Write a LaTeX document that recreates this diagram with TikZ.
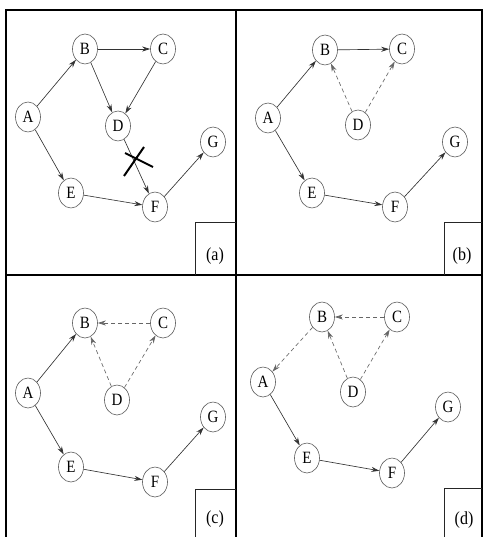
\documentclass[tikz,border=0pt]{standalone}
\usepackage{fontspec}
\setmainfont{Liberation Serif}
\usetikzlibrary{arrows.meta,shapes.geometric}
\newcommand{\tallt}[1]{\scalebox{1}[1.15]{#1}}
\tikzset{
  vert/.style={ellipse,draw=black!65,line width=0.6pt,inner sep=0pt,minimum width=25pt,minimum height=30pt,font=\fontsize{15}{15}\selectfont},
  edge/.style={draw=black!80,line width=0.65pt,-{Stealth[length=8pt,width=5pt]}},
  dedge/.style={draw=black!60,line width=0.65pt,dash pattern=on 4pt off 3pt,-{Stealth[length=8pt,width=5pt]}},
  frame/.style={draw=black,line width=1.1pt},
  lbox/.style={draw=black!85,line width=0.8pt},
  lbl/.style={font=\fontsize{16}{16}\selectfont,inner sep=0pt},
  crossline/.style={draw=black,line width=2pt}
}
\begin{document}
\begin{tikzpicture}[x=1pt,y=-1pt]
\useasboundingbox (0,0) rectangle (483,537);
% frame
\draw[frame] (6,537) -- (6,10) -- (482,10) -- (482,537);
\draw[frame] (236,10) -- (236,537);
\draw[frame] (6,275) -- (482,275);
% label boxes
\draw[lbox] (195,275) -- (195,222) -- (236,222);
\draw[lbox] (444,275) -- (444,222) -- (482,222);
\draw[lbox] (195,537) -- (195,489) -- (236,489);
\draw[lbox] (444,537) -- (444,488) -- (482,488);
\node[lbl] (la) at (215,256) {\tallt{(a)}};
\node[lbl] (lb) at (462,256) {\tallt{(b)}};
\node[lbl] (lc) at (215,519) {\tallt{(c)}};
\node[lbl] (ld) at (464,520) {\tallt{(d)}};
% panel (a)
\node[vert] (aA) at (28,117) {\tallt{A}};
\node[vert] (aB) at (85,49) {\tallt{B}};
\node[vert] (aC) at (163,49) {\tallt{C}};
\node[vert] (aD) at (118,126) {\tallt{D}};
\node[vert] (aE) at (71,193) {\tallt{E}};
\node[vert] (aF) at (155,207) {\tallt{F}};
\node[vert] (aG) at (213,142) {\tallt{G}};
\draw[edge] (aA) -- (aB);
\draw[edge] (aB) -- (aC);
\draw[edge] (aB) -- (aD);
\draw[edge] (aC) -- (aD);
\draw[edge] (aA) -- (aE);
\draw[edge] (aE) -- (aF);
\draw[edge] (aD) -- (aF);
\draw[edge] (aF) -- (aG);
\coordinate (x1) at (125,153);
\coordinate (x2) at (153,167);
\coordinate (x3) at (124,176);
\coordinate (x4) at (144,147);
\draw[crossline] (x1) -- (x2);
\draw[crossline] (x3) -- (x4);
% panel (b)
\node[vert] (bA) at (268,118) {\tallt{A}};
\node[vert] (bB) at (325,50) {\tallt{B}};
\node[vert] (bC) at (402,49) {\tallt{C}};
\node[vert] (bD) at (358,125) {\tallt{D}};
\node[vert] (bE) at (312,193) {\tallt{E}};
\node[vert] (bF) at (395,207) {\tallt{F}};
\node[vert] (bG) at (455,142) {\tallt{G}};
\draw[edge] (bA) -- (bB);
\draw[edge] (bB) -- (bC);
\draw[dedge] (bD) -- (bB);
\draw[dedge] (bD) -- (bC);
\draw[edge] (bA) -- (bE);
\draw[edge] (bE) -- (bF);
\draw[edge] (bF) -- (bG);
% panel (c)
\node[vert] (cA) at (28,393) {\tallt{A}};
\node[vert] (cB) at (85,323) {\tallt{B}};
\node[vert] (cC) at (163,323) {\tallt{C}};
\node[vert] (cD) at (117,400) {\tallt{D}};
\node[vert] (cE) at (71,467) {\tallt{E}};
\node[vert] (cF) at (155,482) {\tallt{F}};
\node[vert] (cG) at (213,417) {\tallt{G}};
\draw[edge] (cA) -- (cB);
\draw[dedge] (cC) -- (cB);
\draw[dedge] (cD) -- (cB);
\draw[dedge] (cD) -- (cC);
\draw[edge] (cA) -- (cE);
\draw[edge] (cE) -- (cF);
\draw[edge] (cF) -- (cG);
% panel (d)
\node[vert] (dA) at (263,382) {\tallt{A}};
\node[vert] (dB) at (322,317) {\tallt{B}};
\node[vert] (dC) at (397,317) {\tallt{C}};
\node[vert] (dD) at (353,392) {\tallt{D}};
\node[vert] (dE) at (307,458) {\tallt{E}};
\node[vert] (dF) at (392,473) {\tallt{F}};
\node[vert] (dG) at (448,407) {\tallt{G}};
\draw[dedge] (dB) -- (dA);
\draw[dedge] (dC) -- (dB);
\draw[dedge] (dD) -- (dB);
\draw[dedge] (dD) -- (dC);
\draw[edge] (dA) -- (dE);
\draw[edge] (dE) -- (dF);
\draw[edge] (dF) -- (dG);
\end{tikzpicture}
\end{document}
